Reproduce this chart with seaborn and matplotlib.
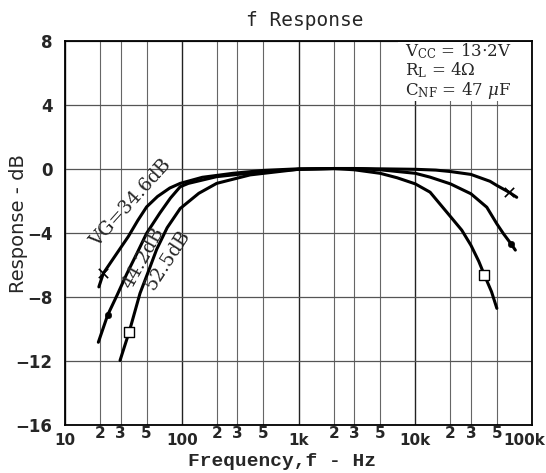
import matplotlib
matplotlib.use("Agg")
import matplotlib.pyplot as plt
import matplotlib.transforms as mtransforms
from matplotlib.patches import Rectangle
import seaborn as sns
import pandas as pd

# values: frequency in Hz, response in dB
vg346_freq = [19.5, 21.3, 25, 30, 34.8, 42, 50, 62, 79, 97, 150, 275, 500, 1000,
              3000, 10000, 15000, 20000, 30000, 43700, 50000, 63500, 74000]
vg346_db = [-7.4, -6.55, -5.8, -4.95, -4.26, -3.25, -2.4, -1.75, -1.22, -0.93, -0.55,
            -0.3, -0.12, -0.02, 0, -0.05, -0.1, -0.19, -0.37, -0.8, -1.06, -1.48, -1.8]

vg442_freq = [19.3, 23.2, 28, 33.8, 42, 50, 65, 80, 97, 114, 199, 500, 1000, 2000,
              3000, 5000, 10000, 13400, 20000, 30000, 41000, 50000, 57000, 66000, 72000]
vg442_db = [-10.86, -9.16, -7.9, -6.59, -5.2, -4.05, -2.78, -1.85, -1.14, -0.93, -0.51,
            -0.2, -0.05, 0, 0, -0.08, -0.3, -0.54, -0.96, -1.58, -2.42, -3.46, -4.08,
            -4.7, -5.1]

vg525_freq = [29.6, 35.5, 43.9, 52, 61, 75, 97, 140, 199, 385, 1000, 2000, 3000,
              5000, 7000, 10000, 13400, 20000, 25000, 30000, 35000, 39000, 45000, 50000]
vg525_db = [-12.0, -10.2, -7.8, -6.4, -5.05, -3.7, -2.5, -1.55, -0.93, -0.4, -0.05, 0,
            -0.08, -0.3, -0.58, -0.96, -1.48, -3.0, -3.85, -4.8, -5.8, -6.64, -7.7, -8.74]

# marker points on each curve
x_mark_freq = [21.3, 63500]
x_mark_db = [-6.55, -1.48]
o_mark_freq = [23.2, 66000]
o_mark_db = [-9.16, -4.7]
sq_mark_freq = [35.5, 39000]
sq_mark_db = [-10.2, -6.64]

x_major = [10, 100, 1000, 10000, 100000]
x_major_labels = ["10", "100", "1k", "10k", "100k"]
x_minor = [20, 30, 50, 200, 300, 500, 2000, 3000, 5000, 20000, 30000, 50000]
x_minor_labels = ["2", "3", "5"] * 4
y_ticks = [8, 4, 0, -4, -8, -12, -16]

rows = []
for name, fr, db in [("34.6", vg346_freq, vg346_db),
                     ("44.2", vg442_freq, vg442_db),
                     ("52.5", vg525_freq, vg525_db)]:
    rows += [(f, d, name) for f, d in zip(fr, db)]
df = pd.DataFrame(rows, columns=["freq", "db", "curve"])

sns.set_theme(style="white")
plt.rcParams["mathtext.fontset"] = "custom"
plt.rcParams["mathtext.rm"] = "DejaVu Serif"
plt.rcParams["mathtext.it"] = "DejaVu Serif:italic"

fig, ax = plt.subplots(figsize=(5.46, 4.73), dpi=100)
fig.subplots_adjust(left=65 / 546, right=532 / 546, top=1 - 40.5 / 473, bottom=1 - 424.5 / 473)

ax.set_xscale("log")
ax.set_xlim(10, 100000)
ax.set_ylim(-16, 8)

# grid
for f in x_major:
    ax.axvline(f, color="#222222", lw=1.0, zorder=1)
for f in x_minor:
    ax.axvline(f, color="#666666", lw=0.8, zorder=1)
for y in y_ticks:
    ax.axhline(y, color="#555555", lw=0.9, zorder=1)

# white patch behind the operating conditions
ax.add_patch(Rectangle((398 / 546, 1 - 101 / 473), 133 / 546, 59 / 473,
                       transform=fig.transFigure, facecolor="white",
                       edgecolor="none", zorder=2))

sns.lineplot(data=df, x="freq", y="db", hue="curve", palette=["black"] * 3,
             linewidth=2.2, legend=False, estimator=None, sort=False, ax=ax, zorder=3)

sns.scatterplot(x=x_mark_freq, y=x_mark_db, marker="x", color="black", s=45,
                linewidth=1.2, ax=ax, zorder=4)
sns.scatterplot(x=o_mark_freq, y=o_mark_db, marker="o", color="black", s=22,
                edgecolor="black", ax=ax, zorder=4)
sns.scatterplot(x=sq_mark_freq, y=sq_mark_db, marker="s", color="white", s=45,
                edgecolor="black", linewidth=1.0, ax=ax, zorder=4)

for sp in ax.spines.values():
    sp.set_color("black")
    sp.set_linewidth(1.3)

ax.set_xticks(x_major, labels=x_major_labels)
ax.set_xticks(x_minor, labels=x_minor_labels, minor=True)
ax.set_yticks(y_ticks, labels=[str(v).replace("-", "\u2212") for v in y_ticks])
ax.tick_params(axis="x", which="major", length=0, pad=6, labelsize=11)
ax.tick_params(axis="x", which="minor", length=0, pad=1, labelsize=11)
ax.tick_params(axis="y", length=0, pad=9, labelsize=12)
for lab in ax.get_xticklabels(minor=False) + ax.get_xticklabels(minor=True) + ax.get_yticklabels():
    lab.set_fontweight("bold")
# pull "100k" inside the canvas like the original
last = ax.get_xticklabels()[-1]
last.set_transform(last.get_transform() +
                   mtransforms.ScaledTranslation(-8 / 100, 0, fig.dpi_scale_trans))

ax.set_xlabel("")
ax.set_ylabel("")
fig.text(282 / 546, 1 - 461 / 473, "Frequency,f - Hz", ha="center", va="center",
         family="Liberation Mono", fontweight="bold", fontsize=14)
fig.text(19 / 546, 1 - 224 / 473, "Response - dB", ha="center", va="center",
         rotation=90, family="DejaVu Sans", fontsize=14)
fig.text(305 / 546, 1 - 20 / 473, "f Response", ha="center", va="center",
         family="DejaVu Sans Mono", fontsize=14)

# gain labels along the curves
serif = "DejaVu Serif"
ax.text(36.7, -2.16, "VG=34.6dB", rotation=48, ha="center", va="center",
        family=serif, fontsize=13.5, zorder=5)
ax.text(47, -5.6, "44.2dB", rotation=61, ha="center", va="center",
        family=serif, fontsize=13.5, zorder=5)
ax.text(75.5, -5.7, "52.5dB", rotation=57, ha="center", va="center",
        family=serif, fontsize=13.5, zorder=5)

# operating conditions
cond = [r"$\mathrm{V_{CC}}$ = 13$\cdot$2V", r"$\mathrm{R_{L}}$ = 4$\Omega$",
        r"$\mathrm{C_{NF}}$ = 47 $\mu$F"]
for i, s in enumerate(cond):
    fig.text(405 / 546, 1 - (56 + 19.5 * i) / 473, s, ha="left", va="baseline",
             family=serif, fontsize=12, zorder=5)

fig.savefig("out.png", dpi=100)
